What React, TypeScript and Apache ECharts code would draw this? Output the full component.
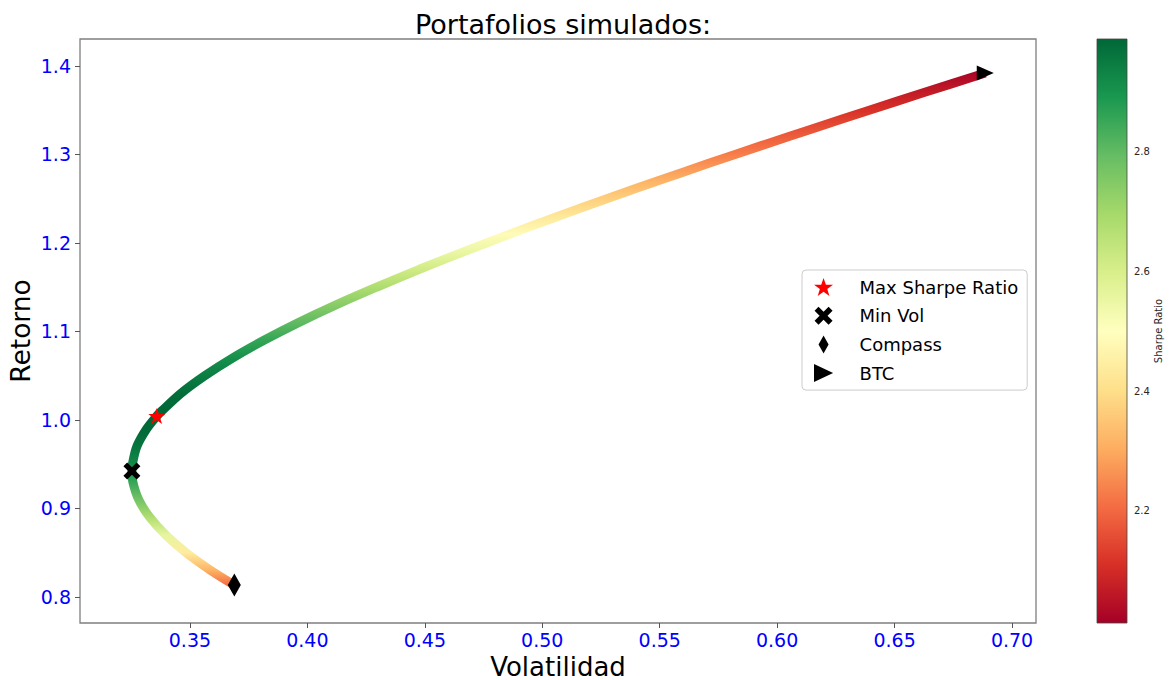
import React, { useEffect, useRef } from "react";
import * as echarts from "echarts";

// Frontera eficiente: retorno, volatilidad y ratio de Sharpe de cada portafolio
const retorno = [0.8135, 0.83, 0.85, 0.87, 0.89, 0.91, 0.93, 0.9424, 0.95, 0.97, 0.99, 1.0045, 1.01, 1.03, 1.05, 1.07, 1.09, 1.11, 1.13, 1.15, 1.17, 1.19, 1.21, 1.23, 1.25, 1.27, 1.29, 1.31, 1.33, 1.35, 1.37, 1.392];
const volatilidad = [0.3689, 0.3589, 0.3484, 0.3397, 0.3329, 0.3282, 0.3257, 0.3253, 0.3255, 0.3274, 0.3316, 0.3359, 0.3379, 0.3461, 0.3563, 0.3681, 0.3815, 0.3962, 0.4122, 0.4294, 0.4474, 0.4664, 0.4861, 0.5065, 0.5275, 0.549, 0.5709, 0.5933, 0.6161, 0.6392, 0.6625, 0.6886];
const sharpe = [2.205, 2.312, 2.44, 2.561, 2.674, 2.772, 2.855, 2.897, 2.919, 2.963, 2.986, 2.99, 2.989, 2.976, 2.947, 2.907, 2.858, 2.801, 2.741, 2.679, 2.615, 2.552, 2.489, 2.429, 2.37, 2.314, 2.26, 2.208, 2.159, 2.112, 2.068, 2.022];

// Portafolios destacados [volatilidad, retorno]
const maxSharpe = [0.3359, 1.0045];
const minVol = [0.3253, 0.9424];
const compass = [0.3689, 0.8135];
const btc = [0.6886, 1.392];

// Ejes
const xRange = [0.3032, 0.7102];
const yRange = [0.7706, 1.4305];
const xTicks = [0.35, 0.4, 0.45, 0.5, 0.55, 0.6, 0.65, 0.7];
const yTicks = [0.8, 0.9, 1.0, 1.1, 1.2, 1.3, 1.4];
const sharpeRange = [2.012, 2.989];
const sharpeTicks = [2.2, 2.4, 2.6, 2.8];

// Mapa de color RdYlGn
const RDYLGN = ["#a50026", "#d73027", "#f46d43", "#fdae61", "#fee08b", "#ffffbf", "#d9ef8b", "#a6d96a", "#66bd63", "#1a9850", "#006837"];

const FONT = "DejaVu Sans";

function hexToRgb(h: string) {
  const n = parseInt(h.slice(1), 16);
  return [(n >> 16) & 255, (n >> 8) & 255, n & 255];
}

function rdylgn(t: number) {
  const c = Math.max(0, Math.min(1, t)) * (RDYLGN.length - 1);
  const i = Math.min(RDYLGN.length - 2, Math.floor(c));
  const f = c - i;
  const a = hexToRgb(RDYLGN[i]);
  const b = hexToRgb(RDYLGN[i + 1]);
  const m = a.map((v, k) => Math.round(v + (b[k] - v) * f));
  return `rgb(${m[0]},${m[1]},${m[2]})`;
}

function sharpeColor(s: number) {
  return rdylgn((s - sharpeRange[0]) / (sharpeRange[1] - sharpeRange[0]));
}

const STAR = "path://M50,0 L61.8,34.5 L97.6,34.5 L68.7,55.9 L79.4,90.5 L50,69.1 L20.6,90.5 L31.3,55.9 L2.4,34.5 L38.2,34.5 Z";
const CROSS = "path://M0,22 L22,0 L50,28 L78,0 L100,22 L72,50 L100,78 L78,100 L50,72 L22,100 L0,78 L28,50 Z";
const THIN_DIAMOND = "path://M50,0 L100,50 L50,100 L0,50 Z";
const TRI_RIGHT = "path://M0,0 L17,8 L0,16 Z";

export default function App() {
  const ref = useRef<HTMLDivElement>(null);

  useEffect(() => {
    document.body.style.margin = "0";
    if (!ref.current) return;
    const chart = echarts.init(ref.current, null, { renderer: "svg" });

    // Gradiente vertical de la curva según el Sharpe de cada punto
    const rMax = Math.max(...retorno);
    const rMin = Math.min(...retorno);
    const stops = retorno
      .map((r, i) => ({ offset: (rMax - r) / (rMax - rMin), color: sharpeColor(sharpe[i]) }))
      .sort((a, b) => a.offset - b.offset);
    const curveGradient = new echarts.graphic.LinearGradient(0, 0, 0, 1, stops);

    // Gradiente de la barra de color (arriba verde, abajo rojo)
    const barStops = RDYLGN.map((c, i) => ({ offset: 1 - i / (RDYLGN.length - 1), color: c })).sort((a, b) => a.offset - b.offset);
    const barGradient = new echarts.graphic.LinearGradient(0, 0, 0, 1, barStops);

    const tickLabel = { color: "blue", fontSize: 19, lineHeight: 19, fontFamily: FONT };

    chart.setOption({
      animation: false,
      backgroundColor: "#ffffff",
      title: {
        text: "Portafolios simulados:",
        left: 558,
        textAlign: "center",
        top: 6,
        textStyle: { fontSize: 27, fontWeight: "normal", fontFamily: FONT, color: "#000" },
      },
      grid: [
        { left: 80, top: 39, width: 956, height: 584, show: true, borderColor: "#7f7f7f", borderWidth: 1.3, backgroundColor: "transparent", outerBoundsMode: "none" },
        { left: 1097, top: 39, width: 30, height: 584, show: false, outerBoundsMode: "none" },
      ],
      xAxis: [
        {
          type: "value",
          gridIndex: 0,
          min: xRange[0],
          max: xRange[1],
          splitLine: { show: false },
          axisLine: { show: false },
          axisTick: { show: true, length: 5, lineStyle: { color: "#555" }, customValues: xTicks },
          axisLabel: { ...tickLabel, margin: 7, customValues: xTicks, formatter: (v: number) => v.toFixed(2) },
          name: "Volatilidad",
          nameLocation: "middle",
          nameGap: 31,
          nameMoveOverlap: false,
          nameTextStyle: { fontSize: 26, fontFamily: FONT, color: "#000", lineHeight: 25 },
        },
        { type: "value", gridIndex: 1, min: 0, max: 1, show: false },
      ],
      yAxis: [
        {
          type: "value",
          gridIndex: 0,
          min: yRange[0],
          max: yRange[1],
          splitLine: { show: false },
          axisLine: { show: false },
          axisTick: { show: true, length: 5, lineStyle: { color: "#555" }, customValues: yTicks },
          axisLabel: { ...tickLabel, margin: 9, customValues: yTicks, formatter: (v: number) => v.toFixed(1) },
          name: "Retorno",
          nameLocation: "middle",
          nameGap: 46,
          nameRotate: 90,
          nameMoveOverlap: false,
          nameTextStyle: { fontSize: 26.5, fontFamily: FONT, color: "#000" },
        },
        {
          type: "value",
          gridIndex: 1,
          position: "right",
          min: sharpeRange[0],
          max: sharpeRange[1],
          splitLine: { show: false },
          axisLine: { show: false },
          axisTick: { show: true, length: 4, lineStyle: { color: "#444" }, customValues: sharpeTicks },
          axisLabel: { color: "#262626", fontSize: 10, fontFamily: FONT, margin: 7, customValues: sharpeTicks, formatter: (v: number) => v.toFixed(1) },
          name: "Sharpe Ratio",
          nameLocation: "middle",
          nameRotate: 90,
          nameGap: 26,
          nameMoveOverlap: false,
          nameTextStyle: { fontSize: 10, fontFamily: FONT, color: "#262626" },
        },
      ],
      legend: {
        orient: "vertical",
        left: 802,
        top: 270,
        padding: [8, 9, 8, 12],
        itemWidth: 26,
        itemHeight: 18,
        itemGap: 10.7,
        selectedMode: false,
        backgroundColor: "#ffffff",
        borderColor: "#cccccc",
        borderWidth: 1,
        borderRadius: 4,
        textStyle: { fontSize: 18, fontFamily: FONT, color: "#000", lineHeight: 18, padding: [0, 0, 0, 18] },
        data: [
          { name: "Max Sharpe Ratio" },
          { name: "Min Vol" },
          { name: "Compass", icon: "path://M5,0 L10,9 L5,18 L0,9 Z" },
          { name: "BTC" },
        ],
      },
      series: [
        {
          type: "line",
          name: "Frontera",
          xAxisIndex: 0,
          yAxisIndex: 0,
          data: volatilidad.map((v, i) => [v, retorno[i]]),
          symbol: "none",
          showSymbol: false,
          smooth: 0.3,
          silent: true,
          lineStyle: { width: 9, color: curveGradient },
          z: 2,
        },
        {
          type: "scatter",
          name: "Max Sharpe Ratio",
          data: [maxSharpe],
          symbol: STAR,
          symbolSize: 17,
          symbolKeepAspect: true,
          itemStyle: { color: "#ff0000", opacity: 1 },
          z: 5,
        },
        {
          type: "scatter",
          name: "Min Vol",
          data: [minVol],
          symbol: CROSS,
          symbolSize: 17,
          symbolKeepAspect: true,
          itemStyle: { color: "#000000", opacity: 1 },
          z: 5,
        },
        {
          type: "scatter",
          name: "Compass",
          data: [compass],
          symbol: THIN_DIAMOND,
          symbolSize: [13, 23],
          symbolKeepAspect: false,
          itemStyle: { color: "#000000", opacity: 1 },
          z: 5,
        },
        {
          type: "scatter",
          name: "BTC",
          data: [btc],
          symbol: TRI_RIGHT,
          symbolSize: [17, 16],
          symbolKeepAspect: true,
          itemStyle: { color: "#000000", opacity: 1 },
          z: 5,
        },
        {
          type: "custom",
          name: "Barra Sharpe",
          xAxisIndex: 1,
          yAxisIndex: 1,
          silent: true,
          data: [[0, sharpeRange[0], sharpeRange[1]]],
          encode: { x: 0, y: [1, 2] },
          renderItem: (params: any, api: any) => {
            const top = api.coord([0, api.value(2)]);
            const bottom = api.coord([1, api.value(1)]);
            return {
              type: "rect",
              shape: { x: top[0], y: top[1], width: bottom[0] - top[0], height: bottom[1] - top[1] },
              style: { fill: barGradient, stroke: "#444", lineWidth: 0.8 },
            };
          },
        },
      ],
    });

    return () => chart.dispose();
  }, []);

  return <div ref={ref} style={{ width: 1169, height: 680 }} />;
}
